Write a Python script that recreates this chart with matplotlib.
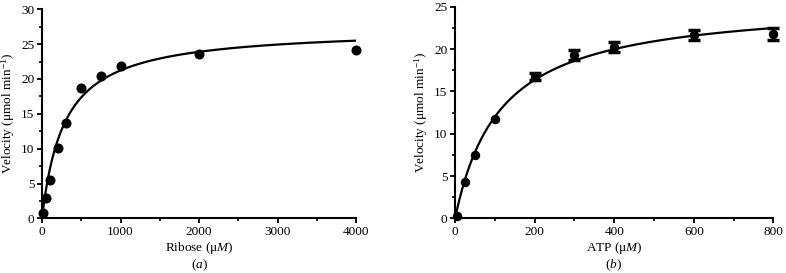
import numpy as np
import matplotlib
matplotlib.use("Agg")
from matplotlib import pyplot as plt
from matplotlib.ticker import MultipleLocator

# panel (a): ribose
ribose = [10, 50, 100, 200, 300, 500, 750, 1000, 2000, 4000]
vel_a = [0.76, 2.96, 5.5, 10.1, 13.7, 18.7, 20.4, 21.9, 23.6, 24.2]
vmax_a, km_a = 27.33, 287.0

# panel (b): ATP
atp = [5, 25, 50, 100, 200, 300, 400, 600, 800]
vel_b = [0.3, 4.28, 7.5, 11.7, 16.75, 19.3, 20.3, 21.7, 21.8]
err_b = [0.0, 0.0, 0.0, 0.0, 0.45, 0.6, 0.6, 0.6, 0.7]
vmax_b, km_b = 25.7, 114.0

plt.rcParams['font.family'] = ['Liberation Serif', 'DejaVu Serif']
plt.rcParams['mathtext.fontset'] = 'custom'
plt.rcParams['mathtext.rm'] = 'Liberation Serif'
plt.rcParams['mathtext.it'] = 'Liberation Serif:italic'

fig = plt.figure(figsize=(7.86, 2.73), dpi=100)
ax1 = fig.add_axes([0.0534, 0.2, 0.400, 0.766])
ax2 = fig.add_axes([0.579, 0.2, 0.405, 0.775])

FS = 9.5


def style(ax, xmaj, xmin, ymaj, ymin):
    for s in ['top', 'right']:
        ax.spines[s].set_visible(False)
    for s in ['left', 'bottom']:
        ax.spines[s].set_linewidth(1.5)
    ax.xaxis.set_major_locator(MultipleLocator(xmaj))
    ax.xaxis.set_minor_locator(MultipleLocator(xmin))
    ax.yaxis.set_major_locator(MultipleLocator(ymaj))
    ax.yaxis.set_minor_locator(MultipleLocator(ymin))
    ax.tick_params(which='major', direction='out', length=3.5, width=1.3, labelsize=FS, pad=2)
    ax.tick_params(which='minor', direction='out', length=2, width=1.2)
    ax.set_ylabel('Velocity (μmol min$^{\\mathregular{-1}}$)', fontsize=FS, labelpad=3)


# (a)
xa = np.linspace(0, 4000, 400)
ax1.plot(xa, vmax_a * xa / (km_a + xa), color='black', lw=1.6, zorder=2)
ax1.plot(ribose, vel_a, 'o', color='black', ms=6.2, clip_on=False, zorder=3)
ax1.set_xlim(0, 4000)
ax1.set_ylim(0, 30)
style(ax1, 1000, 500, 5, 2.5)
ax1.set_xlabel('Ribose (μ$\\it{M}$)', fontsize=FS, labelpad=1.5)
fig.text(0.254, 0.03, '($\\it{a}$)', ha='center', va='center', fontsize=FS)

# (b)
xb = np.linspace(0, 800, 400)
ax2.plot(xb, vmax_b * xb / (km_b + xb), color='black', lw=1.6, zorder=2)
ax2.plot(atp, vel_b, 'o', color='black', ms=5.8, clip_on=False, zorder=3)
sel = [i for i, e in enumerate(err_b) if e > 0]
ax2.errorbar([atp[i] for i in sel], [vel_b[i] for i in sel],
             yerr=[err_b[i] for i in sel], fmt='none', ecolor='black',
             elinewidth=1.5, capsize=4, capthick=2.5, clip_on=False, zorder=3)
ax2.set_xlim(0, 800)
ax2.set_ylim(0, 25)
style(ax2, 200, 100, 5, 2.5)
ax2.set_xlabel('ATP (μ$\\it{M}$)', fontsize=FS, labelpad=1.5)
fig.text(0.781, 0.03, '($\\it{b}$)', ha='center', va='center', fontsize=FS)

fig.savefig('out.png', dpi=100)
